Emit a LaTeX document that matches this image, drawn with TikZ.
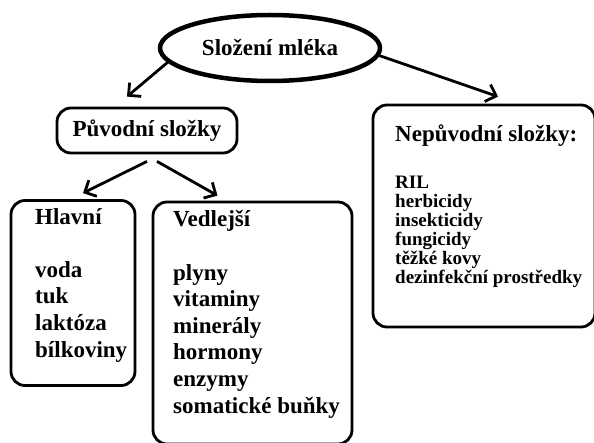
\documentclass[tikz,border=0pt]{standalone}
\usepackage{fontspec}
\setmainfont{Liberation Serif}
\usepackage{tikz}
\usetikzlibrary{positioning,arrows.meta,shapes.geometric}
\newcommand{\lgfont}{\fontsize{23}{26.6}\selectfont\bfseries}
\newcommand{\smfont}{\fontsize{19}{19}\selectfont\bfseries}

\begin{document}
\begin{tikzpicture}[x=1pt, y=-1pt, font=\lgfont,
  >={Straight Barb[length=9pt, width=18pt]},
  frame/.style={draw, line width=2.8pt, rounded corners=14pt, minimum width=#1},
  txt/.style={anchor=base west, align=left, inner sep=0pt},
  flow/.style={->, line width=2.8pt}]
\useasboundingbox (0,0) rectangle (594,443);
% -- top
\node[ellipse, draw, line width=4.5pt, minimum width=220pt, minimum height=66pt] (root) at (270,48)
  {Složení mléka};
\node[frame=180pt, minimum height=45pt] (orig) at (147,130.5) {Původní složky};
% -- boxes
\node[frame=124pt, minimum height=185pt] (hlav) at (73,293) {};
\node[frame=199pt, minimum height=242pt] (ved) at (252.5,323) {};
\node[frame=222pt, minimum height=222pt] (nep) at (484,216) {};
% -- texts (anchored at the last line)
\node[txt] (hlavtxt) at (35,357) {Hlavní\\[26.6pt]voda\\tuk\\laktóza\\bílkoviny};
\node[txt] (vedtxt) at (173,413) {Vedlejší\\[26.6pt]plyny\\vitaminy\\minerály\\hormony\\enzymy\\somatické buňky};
\node[txt, font=\smfont] (neptxt) at (395,284)
  {{\lgfont Nepůvodní složky:}\\[28pt]RIL\\herbicidy\\insekticidy\\fungicidy\\těžké kovy\\dezinfekční prostředky};
% -- arrows
\draw[flow] (root.188) -- ([xshift=-20pt, yshift=10pt]orig.north);
\draw[flow] (root.-4) -- ([xshift=14pt, yshift=7pt]nep.north);
\draw[flow] ([yshift=-7pt]orig.south) -- ([xshift=10pt, yshift=6pt]hlav.north);
\draw[flow] ([xshift=10pt, yshift=-7pt]orig.south) -- ([xshift=-35pt, yshift=5pt]ved.north);
\end{tikzpicture}
\end{document}
